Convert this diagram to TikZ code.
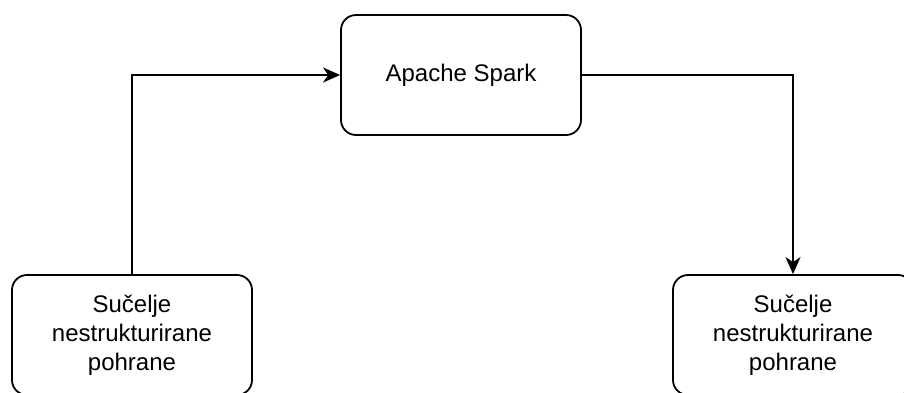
\documentclass[tikz,border=0pt]{standalone}
\usepackage{fontspec}
\setmainfont{Liberation Sans}
\usetikzlibrary{arrows.meta}
\tikzset{
  box/.style={draw, line width=1.8pt, rounded corners=15pt, minimum width=240pt,
    minimum height=120pt, align=center, font=\fontsize{24}{29}\selectfont},
  link/.style={line width=1.8pt, -{Stealth[length=17pt,width=15pt,inset=5pt]}}
}
\begin{document}
\begin{tikzpicture}[x=1pt,y=-1pt]
\useasboundingbox (0,0) rectangle (904,392);

% Boxes
\node [box] (spark) at (461,75) {Apache Spark};
\node [box] (src) at (132,335) {Sučelje\\nestrukturirane\\pohrane};
\node [box] (dst) at (793,335) {Sučelje\\nestrukturirane\\pohrane};

% Links
\draw [link] (src.north) |- (spark.west);
\draw [link] (spark.east) -| (dst.north);
\end{tikzpicture}
\end{document}
